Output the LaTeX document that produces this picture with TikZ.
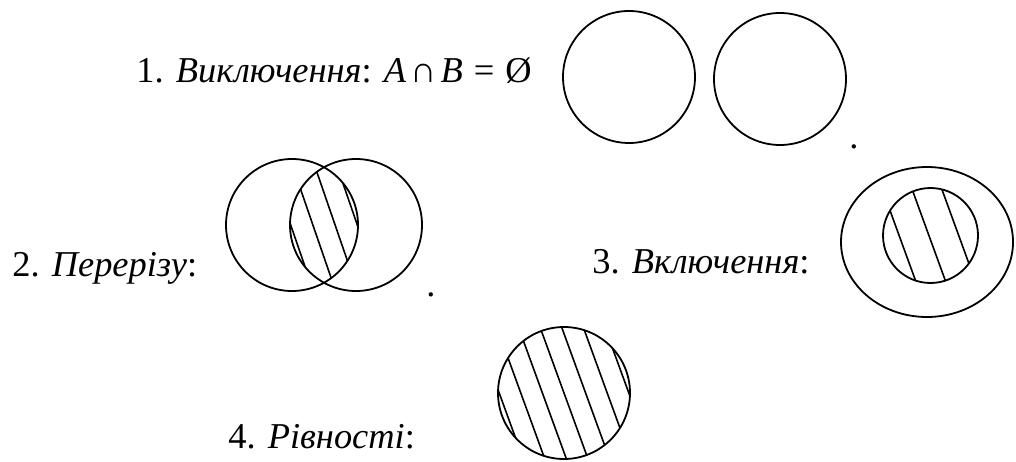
\documentclass[tikz,border=0pt]{standalone}
\usepackage{fontspec}
\setmainfont{Liberation Serif}

\tikzset{
  caption/.style={anchor=base west, inner sep=0pt, font=\fontsize{18.2}{22}\selectfont},
  setline/.style={line width=0.9pt},
  hatch/.style={line width=0.8pt}
}

\begin{document}
\begin{tikzpicture}[x=0.5pt, y=0.5pt]
        \useasboundingbox (0,0) rectangle (1016,461);
        % 1. disjoint sets
        \node[caption] (t1) at (136,378) {1. \textit{Виключення}: \textit{A}\kern2pt∩\kern2pt\textit{B}\kern1pt{} = \kern1pt{}Ø};
        \coordinate (A1) at (629,384);
        \coordinate (B1) at (780,382);
        \draw[setline] (A1) circle (66);
        \draw[setline] (B1) circle (66);
        \node[caption] (p1) at (849,312) {.};

        % 2. intersection
        \node[caption] (t2) at (12,185) {2. \textit{Перерізу}:};
        \coordinate (A2) at (292,236);
        \coordinate (B2) at (356,236);
        \coordinate (L2) at (324,236);
        \begin{scope}
            \clip (A2) circle (66);
            \clip (B2) circle (66);
            \begin{scope}[shift={(L2)}, rotate=-71]
                \foreach \o in {-31.5,-10.5,10.5,31.5}
                    \draw[hatch] (-90,\o) -- (90,\o);
            \end{scope}
        \end{scope}
        \draw[setline] (A2) circle (66);
        \draw[setline] (B2) circle (66);
        \node[caption] (p2) at (426,165) {.};

        % 3. inclusion
        \node[caption] (t3) at (592,188) {3. \textit{Включення}:};
        \coordinate (A3) at (927,219);
        \coordinate (B3) at (930.5,225.5);
        \draw[setline] (A3) ellipse (86 and 75);
        \begin{scope}
            \clip (B3) circle (47.5);
            \begin{scope}[shift={(B3)}, rotate=-70]
                \foreach \o in {-29.5,-1.5,26.5}
                    \draw[hatch] (-60,\o) -- (60,\o);
            \end{scope}
        \end{scope}
        \draw[setline] (B3) circle (47.5);

        % 4. equality
        \node[caption] (t4) at (228,13) {4. \textit{Рівності}:};
        \coordinate (A4) at (564,68);
        \begin{scope}
            \clip (A4) circle (66);
            \begin{scope}[shift={(A4)}, rotate=-70]
                \foreach \k in {-3,...,3}
                    \draw[hatch] (-80,20.3*\k) -- (80,20.3*\k);
            \end{scope}
        \end{scope}
        \draw[setline] (A4) circle (66);

    \end{tikzpicture}
\end{document}
